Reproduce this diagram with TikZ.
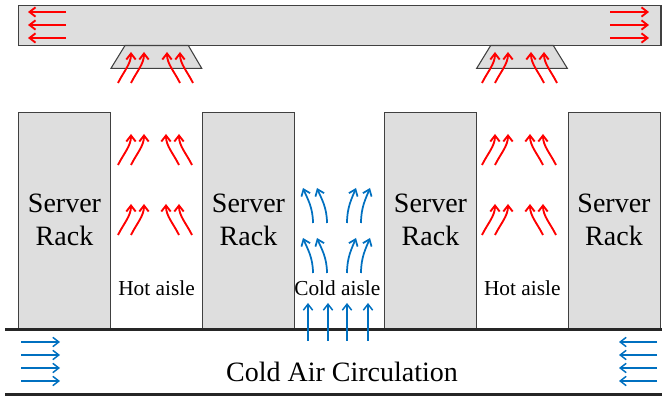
\documentclass[tikz,border=0pt]{standalone}
\usepackage{fontspec}
\setmainfont{Liberation Serif}
\usetikzlibrary{arrows.meta}
\definecolor{rackgray}{RGB}{222,222,222}
\definecolor{edgegray}{RGB}{64,64,64}
\definecolor{airblue}{RGB}{0,112,192}
\definecolor{airred}{RGB}{255,0,0}
\tikzset{
  rack/.style={draw=edgegray,fill=rackgray,line width=0.7pt,minimum width=69pt,minimum height=162pt,inner sep=0pt,align=center,font=\fontsize{21}{24.75}\selectfont},
  aisle/.style={anchor=base,inner sep=0pt,font=\fontsize{16}{19}\selectfont},
  duct/.style={draw=edgegray,fill=rackgray,line width=0.8pt},
  hot/.style={draw=airred,line width=1.4pt,-{Straight Barb[length=4.5pt,width=7pt]}},
  cold/.style={draw=airblue,line width=1.3pt,-{Straight Barb[length=4.5pt,width=7pt]}},
  flat/.style={draw=airblue,line width=1.1pt,-{Straight Barb[length=4.5pt,width=7pt]}},
  floor/.style={draw=black!85,line width=1.8pt},
  pics/hotleft/.style={code={\draw[hot] (0,0) .. controls +(6,-12) and +(0,12) .. (13,-31);}},
  pics/hotright/.style={code={\draw[hot] (0,0) .. controls +(-6,-12) and +(0,12) .. (-13,-31);}},
  pics/coldleft/.style={code={\draw[cold] (0,0) .. controls +(0,-16) and +(4,10) .. (-10,-35);}},
  pics/coldright/.style={code={\draw[cold] (0,0) .. controls +(0,-16) and +(-4,10) .. (9,-35);}}
}
\begin{document}
\begin{tikzpicture}[x=0.75pt,y=-0.75pt]
  \useasboundingbox (0,0) rectangle (662,399);
  \draw[duct] (18.5,5.7) rectangle (661,45.5);
  \draw[duct] (125,45.5) -- (188.3,45.5) -- (201.7,68.3) -- (111,68.3) -- cycle;
  \draw[duct] (490.7,45.5) -- (553.3,45.5) -- (567.3,68.3) -- (476.7,68.3) -- cycle;
  \foreach \y in {12,25,38} {
    \draw[hot] (66,\y) -- (28,\y);
    \draw[hot] (610,\y) -- (649,\y);
  }
  \foreach \x/\n in {64.5/1,248.5/2,430.5/3,614/4}
    \node[rack] (rack\n) at (\x,220) {Server\\Rack};
  \foreach \a in {0,364} {
    \pic at (118+\a,83) {hotleft}; \pic at (131+\a,83) {hotleft};
    \pic at (180+\a,83) {hotright}; \pic at (193+\a,83) {hotright};
  }
  \foreach \a in {0,364} \foreach \y in {165,235} {
    \pic at (118+\a,\y) {hotleft}; \pic at (131+\a,\y) {hotleft};
    \pic at (179+\a,\y) {hotright}; \pic at (192+\a,\y) {hotright};
  }
  \foreach \y in {223,273} {
    \pic at (313,\y) {coldleft}; \pic at (327,\y) {coldleft};
    \pic at (347,\y) {coldright}; \pic at (361,\y) {coldright};
  }
  \node[aisle] (hot1) at (156.5,296) {Hot aisle};
  \node[aisle] (hot2) at (522.3,296) {Hot aisle};
  \node[aisle] (coldaisle) at (337.3,296) {Cold aisle};
  \draw[floor] (5,329.5) -- (662,329.5);
  \draw[floor] (5,394.7) -- (662,394.7);
  \foreach \x in {308,328,347,368}
    \draw[flat] (\x,341) -- (\x,303);
  \foreach \y in {342,355,368,381} {
    \draw[flat] (21,\y) -- (60,\y);
    \draw[flat] (657,\y) -- (619,\y);
  }
  \node[aisle,font=\fontsize{21}{25}\selectfont] (circ) at (342,381.7) {Cold Air Circulation};
\end{tikzpicture}
\end{document}
